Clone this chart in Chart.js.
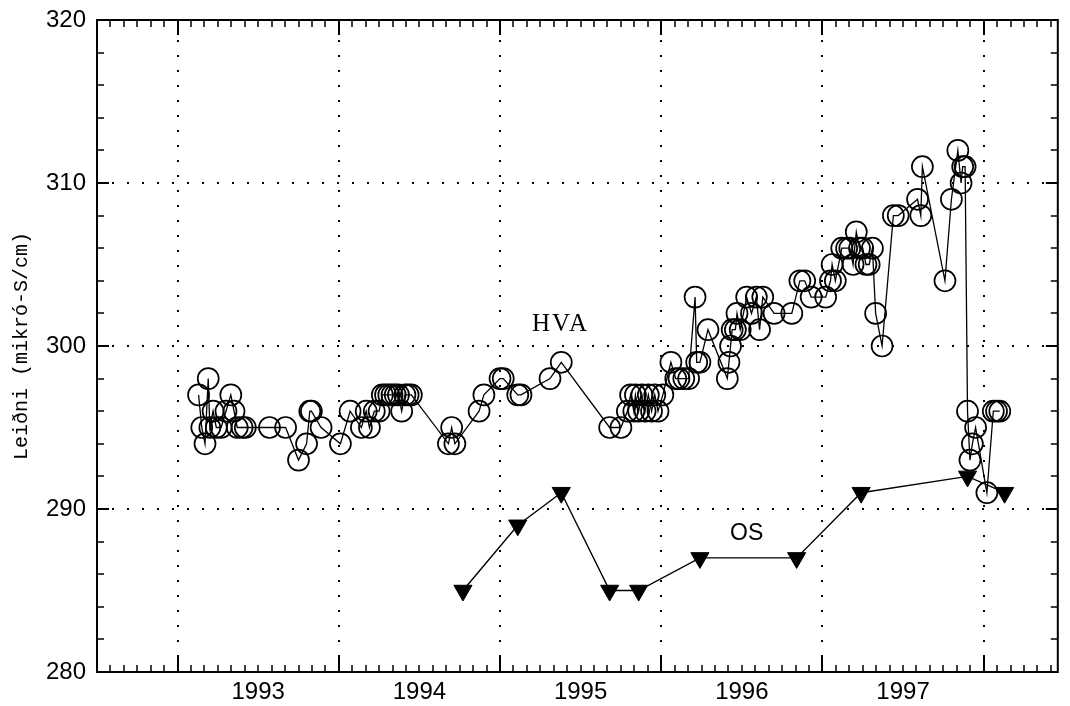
<!DOCTYPE html>
<html><head><meta charset="utf-8">
<script src="https://cdn.jsdelivr.net/npm/chart.js@4.4.1/dist/chart.umd.min.js"></script>
<style>html,body{margin:0;padding:0;background:#fff;}#wrap{width:1070px;height:706px;}</style>
</head><body><div id="wrap"><canvas id="c" width="1070" height="706"></canvas></div>
<script>
// ---- data ----
const hvaYears = [1993.13,1993.15,1993.17,1993.19,1993.20,1993.22,1993.24,1993.27,1993.30,1993.33,1993.35,1993.37,1993.40,1993.42,
 1993.57,1993.67,1993.75,1993.80,1993.82,1993.83,1993.89,1994.01,1994.07,1994.14,1994.17,1994.19,1994.22,1994.25,
 1994.27,1994.29,1994.31,1994.33,1994.35,1994.37,1994.39,1994.41,1994.43,1994.45,1994.68,1994.70,1994.72,1994.87,
 1994.90,1995.00,1995.02,1995.11,1995.13,1995.31,1995.38,1995.68,1995.75,1995.79,1995.81,1995.83,1995.84,1995.86,
 1995.88,1995.90,1995.92,1995.94,1995.96,1995.98,1996.01,1996.06,1996.09,1996.11,1996.14,1996.17,1996.21,1996.22,
 1996.24,1996.29,1996.41,1996.42,1996.43,1996.44,1996.46,1996.47,1996.49,1996.53,1996.56,1996.59,1996.61,1996.63,
 1996.70,1996.81,1996.86,1996.89,1996.93,1997.02,1997.05,1997.06,1997.08,1997.12,1997.15,1997.17,1997.19,1997.21,
 1997.23,1997.25,1997.27,1997.29,1997.31,1997.33,1997.37,1997.44,1997.47,1997.59,1997.61,1997.62,1997.76,1997.80,
 1997.84,1997.86,1997.87,1997.885,1997.90,1997.915,1997.93,1997.95,1998.02,1998.06,1998.08,1998.10];
const hvaValues = [297,295,294,298,295,296,295,295,296,297,296,295,295,295,
 295,295,293,294,296,296,295,294,296,295,296,295,296,296,
 297,297,297,297,297,297,296,297,297,297,294,295,294,296,
 297,298,298,297,297,298,299,295,295,296,297,296,297,296,
 297,296,297,296,297,296,297,299,298,298,298,298,303,299,
 299,301,298,299,300,301,301,302,301,303,302,303,301,303,
 302,302,304,304,303,303,304,305,304,306,306,306,305,307,
 306,306,305,305,306,302,300,308,308,309,308,311,304,309,
 312,310,311,311,296,293,294,295,291,296,296,296];
const osYears = [1994.77,1995.11,1995.38,1995.68,1995.86,1996.24,1996.84,1997.24,1997.90,1998.13];
const osValues = [285,289,291,285,285,287,287,291,292,291];
const yearTickLabels = ['1993','1994','1995','1996','1997'];
const yTickValues = [280,290,300,310,320];
const yTitle = 'Leiðni (mikró-S/cm)';
const seriesNames = ['HVA','OS'];
const seriesLabelPos = [[1995.375,301.35],[1996.53,288.5]];

const tickFont = '"Liberation Sans", Arial, sans-serif';

const framePlugin = {
  id:'frame',
  beforeDatasetsDraw(chart){
    const {ctx, chartArea:a, scales:{x,y}} = chart;
    ctx.save();
    ctx.strokeStyle='#000';
    ctx.lineWidth=2; ctx.setLineDash([2,13]);
    for(let yr=Math.ceil(x.min); yr<=Math.floor(x.max); yr++){
      const px=Math.round(x.getPixelForValue(yr));
      ctx.beginPath(); ctx.moveTo(px,a.bottom); ctx.lineTo(px,a.top); ctx.stroke();
    }
    for(const v of yTickValues.slice(1,-1)){
      const py=Math.round(y.getPixelForValue(v));
      ctx.beginPath(); ctx.moveTo(a.left,py); ctx.lineTo(a.right,py); ctx.stroke();
    }
    ctx.setLineDash([]);
    for(let m=Math.ceil(x.min*12); m<=Math.floor(x.max*12); m++){
      const px=Math.round(x.getPixelForValue(m/12));
      const major = m%12===0;
      const L = major?15:7;
      ctx.lineWidth = major?2:1.5;
      ctx.beginPath();
      ctx.moveTo(px,a.bottom); ctx.lineTo(px,a.bottom-L);
      ctx.moveTo(px,a.top); ctx.lineTo(px,a.top+L);
      ctx.stroke();
    }
    for(let v=y.min+2; v<y.max; v+=2){
      const py=Math.round(y.getPixelForValue(v));
      const major = v%10===0;
      const L = major?12:7;
      ctx.lineWidth = major?2:1.5;
      ctx.beginPath();
      ctx.moveTo(a.left,py); ctx.lineTo(a.left+L,py);
      ctx.moveTo(a.right,py); ctx.lineTo(a.right-L,py);
      ctx.stroke();
    }
    ctx.lineWidth=2;
    ctx.strokeRect(a.left,a.top,a.right-a.left,a.bottom-a.top);
    ctx.restore();
  },
  afterDatasetsDraw(chart){
    const {ctx, scales:{x,y}} = chart;
    ctx.save();
    ctx.fillStyle='#000'; ctx.textAlign='center'; ctx.textBaseline='middle';
    ctx.font='25px "Liberation Serif", serif';
    try{ctx.letterSpacing='2px';}catch(e){}
    ctx.fillText(seriesNames[0], x.getPixelForValue(seriesLabelPos[0][0]), y.getPixelForValue(seriesLabelPos[0][1]));
    try{ctx.letterSpacing='0px';}catch(e){}
    ctx.font='23px '+tickFont;
    ctx.fillText(seriesNames[1], x.getPixelForValue(seriesLabelPos[1][0]), y.getPixelForValue(seriesLabelPos[1][1]));
    ctx.restore();
  }
};

new Chart(document.getElementById('c').getContext('2d'), {
  type:'scatter',
  data:{datasets:[
    {label:seriesNames[0], data:hvaYears.map((t,i)=>({x:t,y:hvaValues[i]})), showLine:true,
     borderColor:'#000', borderWidth:1.3, tension:0, pointStyle:'circle', pointRadius:10.5,
     pointBorderWidth:1.7, pointBackgroundColor:'rgba(0,0,0,0)', pointBorderColor:'#000'},
    {label:seriesNames[1], data:osYears.map((t,i)=>({x:t,y:osValues[i]})), showLine:true,
     borderColor:'#000', borderWidth:1.4, tension:0, pointStyle:'triangle', pointRotation:180, pointRadius:10.5,
     pointBorderWidth:1, pointBackgroundColor:'#000', pointBorderColor:'#000'}
  ]},
  options:{
    responsive:false, animation:false, devicePixelRatio:1,
    layout:{padding:{top:20,right:2,left:0,bottom:0}},
    plugins:{legend:{display:false}, tooltip:{enabled:false}},
    scales:{
      x:{type:'linear', min:1992.5, max:1998.46,
        grid:{display:false, drawTicks:false}, border:{display:false},
        afterBuildTicks:s=>{ s.ticks = yearTickLabels.map(l=>({value:+l+0.5})); },
        ticks:{callback:v=>String(Math.floor(v)), color:'#000', font:{family:tickFont,size:24}, padding:6, maxRotation:0, autoSkip:false},
        afterFit:s=>{ s.height=34; s.paddingLeft=0; s.paddingRight=0; }},
      y:{type:'linear', min:280, max:320,
        grid:{display:false, drawTicks:false}, border:{display:false},
        afterBuildTicks:s=>{ s.ticks = yTickValues.map(v=>({value:v})); },
        ticks:{color:'#000', font:{family:tickFont,size:24}, padding:11},
        title:{display:true, text:yTitle, color:'#000', font:{family:'"Liberation Mono", monospace', size:20}, padding:{top:10,bottom:0}},
        afterFit:s=>{ s.width=97; s.paddingTop=0; s.paddingBottom=0; }}
    }
  },
  plugins:[framePlugin]
});
</script></body></html>
